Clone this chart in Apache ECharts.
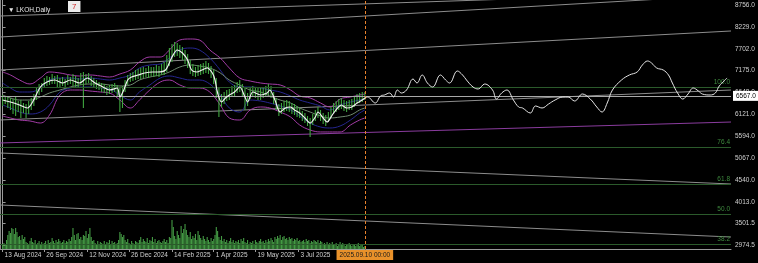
<!DOCTYPE html>
<html><head><meta charset="utf-8">
<script src="https://cdn.jsdelivr.net/npm/echarts@6/dist/echarts.min.js"></script>
<style>html,body{margin:0;padding:0;background:#000;}#c{width:758px;height:263px;}</style>
</head><body><div id="c"></div>
<script>
// ---- data (x = bar index, 0 = 2024-08-09 ... 278 = 2025-09-10) ----
const xTickIdx = [0, 32, 65, 97, 130, 162, 194, 227];
const xTickLabels = ['13 Aug 2024','26 Sep 2024','12 Nov 2024','26 Dec 2024','14 Feb 2025','1 Apr 2025','19 May 2025','3 Jul 2025'];
const yTickValues = [8756, 8229, 7702, 7175, 6648, 6121, 5594, 5067, 4540, 4013, 3501.5, 2974.5];
const cursorIdx = 278;
const cursorLabel = '2025.09.10 00:00';
const lastPrice = 6567;

// price bars sampled every 2 bars: highs / lows
const barHigh = [6588,6540,6564,6516,6491,6540,6443,6467,6395,6371,6443,6516,6612,6757,6853,6877,6997,7046,7021,7094,7046,7070,6997,7021,6973,7070,7021,7094,7046,6997,7118,7142,7094,7118,7046,6997,6949,6901,6877,6853,6805,6829,6853,6877,6829,6757,6805,6949,7070,7118,7142,7190,7214,7238,7262,7238,7287,7262,7262,7311,7287,7335,7383,7552,7720,7817,7865,7841,7793,7744,7672,7576,7431,7335,7262,7311,7335,7359,7407,7359,7287,7190,6997,6757,6612,6660,6708,6732,6805,6829,6901,6949,6853,6757,6636,6757,6805,6781,6757,6757,6781,6805,6853,6805,6660,6516,6371,6395,6443,6467,6443,6395,6371,6323,6275,6202,6154,6082,6034,6130,6227,6299,6227,6154,6106,6178,6299,6395,6443,6491,6516,6467,6443,6467,6491,6540,6612,6636,6660,6660];
const barLow = [6323,6371,6275,6227,6130,6082,6178,6034,6154,6034,6130,6227,6323,6467,6588,6660,6757,6805,6829,6853,6853,6781,6757,6805,6781,6829,6853,6805,6757,6781,6829,6275,6853,6877,6805,6757,6732,6708,6660,6636,6588,6612,6636,6660,6564,6178,6275,6660,6829,6901,6925,6949,6973,6973,6997,7021,6997,7046,7021,7046,7021,7070,7070,7142,7287,7383,7503,7527,7479,7431,7335,7238,7094,7046,7021,7046,7070,7094,7118,7094,6997,6853,6516,6058,6299,6371,6443,6467,6540,6564,6636,6660,6564,6227,6323,6491,6540,6516,6467,6467,6516,6540,6588,6516,6371,6227,6082,6130,6178,6202,6178,6130,6106,6058,6034,5962,5913,5841,5576,5865,5962,6034,5962,5889,5841,5937,6034,6130,6178,6227,6251,6202,6178,6227,6227,6299,6371,6395,6419,6467];

// white moving average through the bars
const maIdx = [0,6,13,19,23,29,34,40,46,52,59,65,71,77,82,88,90,93,96,99,104,109,115,119,125,130,134,138,142,145,149,153,157,161,163,165,168,171,174,178,182,186,188,192,198,203,205,209,213,217,221,224,228,232,236,240,242,246,249,253,257,260,264,268,272,276,278];
const maVal = [6467,6419,6347,6275,6419,6781,6901,6949,6877,6949,6877,6997,6877,6781,6708,6757,6540,6708,6949,7021,7070,7118,7142,7142,7190,7503,7672,7600,7431,7190,7142,7190,7238,7118,6949,6636,6419,6516,6588,6660,6781,6540,6419,6660,6588,6636,6708,6467,6178,6275,6299,6227,6154,6034,5913,6058,6178,6034,5937,6106,6275,6347,6275,6299,6395,6467,6516];

// projection line to the right of the cursor
const projIdx = [278,280,286,290,293,297,300,303,306,310,315,318,322,326,330,336,340,343,349,353,356,361,365,370,376,379,383,387,392,396,399,405,409,414,419,424,430,434,439,445,451,456,460,464,468,475,481,487,491,495,498,502,507,511,514,518,522,526,530,534,537,543,547,550,556];
const projVal = [6516,6540,6395,6564,6588,6636,6540,6708,6636,6708,6973,6877,7070,6877,6781,7070,6949,6877,7166,7070,6949,6781,6733,6853,6708,6491,6636,6708,6467,6299,6275,6154,6323,6275,6371,6467,6540,6540,6443,6612,6491,6299,6178,6395,6708,6949,7070,7142,7311,7407,7359,7238,7190,7070,6877,6636,6491,6612,6757,6684,6612,6588,6636,6805,6997];

// bands
const bandIdx = [0,6,13,21,29,36,44,52,59,67,75,82,90,98,105,113,121,128,136,144,151,159,167,174,182,190,198,205,213,221,228,236,244,251,259,267,274,278];
const outerUpper = [7142,7070,6949,6853,6997,7142,7118,7070,7046,7070,7046,7021,7094,7190,7383,7503,7503,7672,7913,7937,7913,7672,7479,7238,6997,6925,6877,6853,6829,6708,6564,6516,6395,6299,6491,6540,6588,6612];
const outerLower = [6082,6034,5986,5962,5913,6106,6588,6708,6708,6684,6660,6636,6467,6275,6467,6708,6901,6949,6829,6757,6757,6660,6347,6034,5986,6227,6299,6275,6178,6058,5865,5745,5697,5697,5697,5865,5986,6034];
const innerUpper = [6877,6757,6660,6660,6757,6949,6997,6997,6973,6997,6973,6949,6997,7070,7238,7311,7335,7479,7672,7720,7672,7479,7190,6901,6781,6781,6757,6708,6660,6564,6467,6395,6323,6227,6347,6419,6467,6491];
const innerLower = [6347,6275,6178,6130,6178,6347,6660,6757,6781,6781,6757,6732,6588,6467,6660,6829,6997,7046,6997,6949,6949,6853,6588,6275,6178,6467,6443,6395,6323,6227,6082,5913,5817,5793,5841,5986,6154,6227];
const slowMa = [6588,6516,6467,6467,6540,6636,6708,6781,6829,6853,6853,6829,6805,6829,6949,7021,7070,7142,7262,7311,7287,7238,7118,6949,6829,6708,6660,6564,6467,6395,6275,6178,6082,6034,6058,6106,6227,6275];

// trend lines: value at bar -2 and at bar 559
const trendStart = [8491, 7985, 7190, 5986, 5191, 3938];
const trendEnd   = [9076, 8997, 8130, 6708, 4444, 3167];
const purpleStart = 5432, purpleEnd = 5937;

// fibonacci levels
const fibValues = [6781, 5337, 4443, 3721, 2999];
const fibLabels = ['100.0', '76.4', '61.8', '50.0', '38.2'];

// volume per bar (relative units)
const volume = [4,6,5,9,14,18,16,21,20,15, 21,17,12,13,9,14,10,12,7,6, 5,8,11,7,6,9,5,6,8,5, 7,4,6,8,5,9,6,7,11,8,
 6,9,7,10,8,6,7,9,6,8, 7,10,8,12,21,14,9,15,16,10, 12,9,14,13,18,11,15,21,12,8, 9,6,5,8,5,7,6,4,8,5,
 7,6,9,5,8,6,7,5,6,9, 17,15,12,14,9,7,10,6,5,8, 6,5,8,7,6,9,12,7,10,8, 7,11,6,9,8,12,7,10,6,8,
 9,7,6,8,10,7,9,6,12,11, 29,22,13,10,18,14,11,23,16,20, 25,19,14,12,17,10,13,11,15,9, 18,14,11,9,13,10,8,12,9,7,
 11,8,10,14,22,18,12,9,13,8, 10,7,9,6,8,11,7,9,6,8, 7,9,6,10,8,11,7,6,9,5, 7,6,8,5,9,7,6,8,10,7,
 8,6,9,7,10,8,11,9,7,12, 10,13,11,14,9,12,13,10,11,9, 12,10,11,8,10,9,11,8,9,7, 8,9,7,10,8,9,6,8,7,9,
 8,7,9,6,8,7,5,6,4,7, 5,6,4,7,5,4,6,3,5,7, 4,6,5,3,5,4,6,5,3,4, 5,3,4,6,3,4,5,2,3];

// ---- chart ----
const FONT = 'Liberation Sans';
const pair = (xs, ys) => xs.map((x, i) => [x, ys[i]]);
const barData = barHigh.map((h, i) => [i * 2, barLow[i], h]);
const volData = volume.map((v, i) => [i, v]);
const labelMap = {};
xTickIdx.forEach((v, i) => labelMap[v] = xTickLabels[i]);

const series = [];
trendStart.forEach((s, i) => series.push({
  type: 'line', data: [[-2, s], [559, trendEnd[i]]], symbol: 'none', silent: true,
  lineStyle: { color: '#8c8c8c', width: 1 }, z: 1
}));
series.push({ type: 'line', data: [[-2, purpleStart], [559, purpleEnd]], symbol: 'none', silent: true,
  lineStyle: { color: '#8a3c9e', width: 1 }, z: 1 });
// fib lines + bid line
series.push({ type: 'line', data: [], symbol: 'none', silent: true, z: 1,
  markLine: { symbol: 'none', silent: true, animation: false,
    data: fibValues.map((v, i) => ({ yAxis: v,
      lineStyle: { color: '#2b5a2b', width: 1, type: 'solid' },
      label: { show: true, position: 'insideEndTop', formatter: fibLabels[i], color: '#3f8a3f',
        fontSize: 6.5, fontFamily: FONT, distance: [1, 1] } })).concat([{
      yAxis: lastPrice, lineStyle: { color: '#a8a8a8', width: 1, type: 'solid' },
      label: { show: true, position: 'end', formatter: lastPrice.toFixed(1), color: '#000',
        backgroundColor: '#ffffff', padding: [2, 3, 1, 3], fontSize: 6.5, fontFamily: FONT, distance: 2 } }])
  } });
// volume
series.push({ type: 'bar', yAxisIndex: 1, data: volData, barWidth: 1.1, silent: true, z: 2,
  itemStyle: { color: '#449a44' } });
// bands
const bandLine = (vals, color, w) => ({ type: 'line', data: pair(bandIdx, vals), symbol: 'none', smooth: 0.4,
  silent: true, lineStyle: { color: color, width: w }, z: 3 });
series.push(bandLine(outerUpper, '#a23ca6', 1));
series.push(bandLine(outerLower, '#a23ca6', 1));
series.push(bandLine(innerUpper, '#26268f', 1));
series.push(bandLine(innerLower, '#26268f', 1));
series.push(bandLine(slowMa, '#6f8a6f', 1));
// price bars
series.push({ type: 'custom', data: barData, silent: true, z: 4,
  renderItem: (p, api) => {
    const a = api.coord([api.value(0), api.value(1)]);
    const b = api.coord([api.value(0), api.value(2)]);
    return { type: 'line', shape: { x1: a[0], y1: a[1], x2: b[0], y2: b[1] },
      style: { stroke: '#3fa63f', lineWidth: 1.1 } };
  } });
// white MA
series.push({ type: 'line', data: pair(maIdx, maVal), symbol: 'none', smooth: 0.3, silent: true, z: 6,
  lineStyle: { color: '#f0f0f0', width: 1.2 } });
// cursor line
series.push({ type: 'line', data: [], symbol: 'none', silent: true, z: 7, color: '#e8822e',
  markLine: { symbol: 'none', silent: true, animation: false,
    lineStyle: { color: '#e8822e', width: 1, type: [3, 2], opacity: 1 },
    data: [{ xAxis: cursorIdx,
      label: { show: true, position: 'start', formatter: cursorLabel, color: '#1a1a1a',
        backgroundColor: '#e8912a', padding: [2, 3, 1, 3], fontSize: 6.5, fontFamily: FONT, distance: 1 } }] } });
// projection
series.push({ type: 'line', data: pair(projIdx, projVal), symbol: 'none', smooth: 0.4, silent: true, z: 6,
  lineStyle: { color: '#e6e6e6', width: 1 } });

const chart = echarts.init(document.getElementById('c'), null, { renderer: 'canvas' });
chart.setOption({
  animation: false,
  backgroundColor: '#000000',
  title: { text: '▼ LKOH,Daily', left: 3, top: 2,
    textStyle: { color: '#e8e8e8', fontSize: 6.5, fontWeight: 'normal', fontFamily: FONT } },
  graphic: [{ type: 'text', left: 68, top: 1,
    style: { text: '7', fill: '#d02828', backgroundColor: '#ececec', padding: [2, 4, 1, 4],
      font: '8px "Liberation Sans"' } }],
  grid: { left: 0, right: 27, top: 0, bottom: 14 },
  xAxis: { type: 'value', min: -2, max: 559, position: 'bottom',
    axisLine: { show: true, lineStyle: { color: '#9a9a9a' } },
    axisTick: { show: true, customValues: xTickIdx, length: 3, lineStyle: { color: '#9a9a9a' } },
    axisLabel: { show: true, customValues: xTickIdx, formatter: v => labelMap[v] || '', align: 'left',
      color: '#d0d0d0', fontSize: 6.5, fontFamily: FONT, margin: 3, padding: [0, 0, 0, 2] },
    splitLine: { show: false } },
  yAxis: [
    { type: 'value', min: 2878, max: 8876.5, position: 'right',
      axisLine: { show: true, lineStyle: { color: '#9a9a9a' } },
      axisTick: { show: true, customValues: yTickValues, length: 3, lineStyle: { color: '#9a9a9a' } },
      axisLabel: { show: true, customValues: yTickValues, formatter: v => v.toFixed(1),
        color: '#d0d0d0', fontSize: 6.5, fontFamily: FONT, margin: 4 },
      splitLine: { show: false } },
    { type: 'value', min: 0, max: 249, position: 'left',
      axisLine: { show: true, lineStyle: { color: '#8a8a8a' } },
      axisTick: { show: false }, axisLabel: { show: false }, splitLine: { show: false } }
  ],
  series: series
});
</script></body></html>
